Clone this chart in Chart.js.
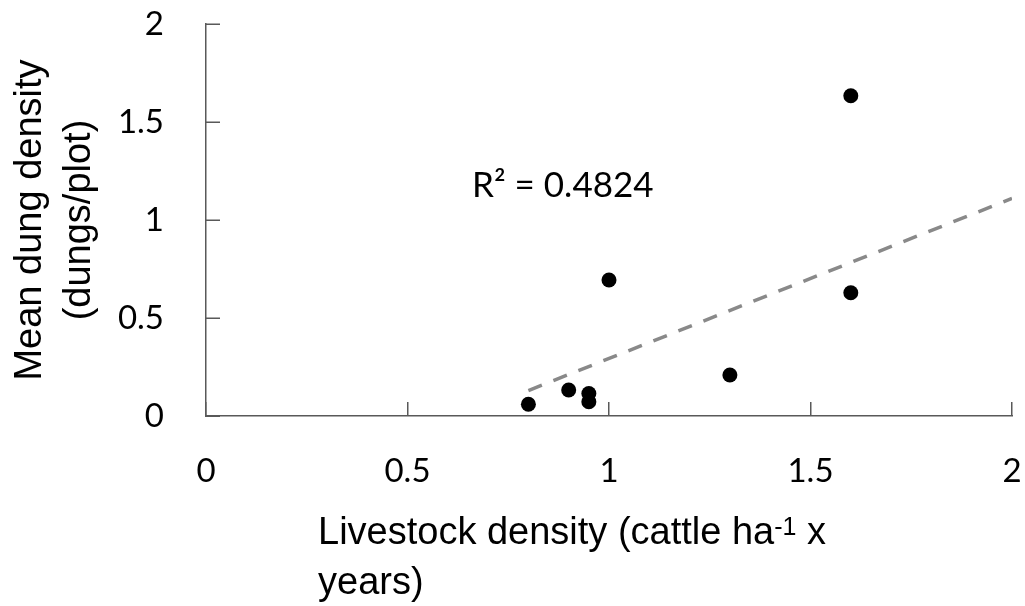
<!DOCTYPE html>
<html><head><meta charset="utf-8">
<script src="https://cdn.jsdelivr.net/npm/chart.js@4.4.0/dist/chart.umd.min.js"></script>
<style>html,body{margin:0;padding:0;background:#fff;} #wrap{width:1025px;height:606px;}</style>
</head><body><div id="wrap"><canvas id="c" width="1025" height="606"></canvas></div>
<script>
// ---- data ----
const livestockDensity = [0.8, 0.9, 0.95, 0.95, 1.0, 1.3, 1.6, 1.6];
const dungDensity      = [0.06, 0.133, 0.115, 0.073, 0.694, 0.209, 1.634, 0.629];
const trendX = [0.8, 2.0];
const trendY = [0.13, 1.11];
const xTicks = [0, 0.5, 1, 1.5, 2];
const yTicks = [0, 0.5, 1, 1.5, 2];
const rSquaredLabel = 'R\u00B2 = 0.4824';
const yTitleLines = ['Mean dung density', '(dungs/plot)'];
const xTitleMain = 'Livestock density (cattle ha';
const xTitleSup = '-1';
const xTitleTail = ' x';
const xTitleLine2 = 'years)';

const AXIS_COLOR = '#595959';

const decorations = {
  id: 'decorations',
  afterDatasetsDraw(chart) {
    const ctx = chart.ctx;
    const xs = chart.scales.x, ys = chart.scales.y;
    const ca = chart.chartArea;
    ctx.save();
    // inward tick marks
    ctx.strokeStyle = AXIS_COLOR;
    ctx.lineWidth = 1.5;
    ctx.beginPath();
    xs.ticks.forEach(t => {
      const px = Math.round(xs.getPixelForValue(t.value)) - 0.25;
      ctx.moveTo(px, ca.bottom);
      ctx.lineTo(px, ca.bottom - 14);
    });
    ys.ticks.forEach(t => {
      const py = Math.round(ys.getPixelForValue(t.value)) + 0.25;
      ctx.moveTo(ca.left, py);
      ctx.lineTo(ca.left + 14, py);
    });
    ctx.stroke();

    ctx.fillStyle = '#000';
    // R² label
    ctx.font = '35px Lato';
    ctx.textAlign = 'left';
    ctx.textBaseline = 'alphabetic';
    ctx.fillText(rSquaredLabel, xs.getPixelForValue(0.66), ys.getPixelForValue(1.117));

    // Y axis title (rotated)
    ctx.font = '38px "Liberation Sans"';
    ctx.textAlign = 'center';
    const cy = (ca.top + ca.bottom) / 2;
    const baseX = [41, 90];
    yTitleLines.forEach((line, i) => {
      ctx.save();
      ctx.translate(baseX[i], cy);
      ctx.rotate(-Math.PI / 2);
      ctx.fillText(line, 0, 0);
      ctx.restore();
    });

    // X axis title with superscript
    ctx.textAlign = 'left';
    let x0 = 318;
    ctx.font = '38px "Liberation Sans"';
    ctx.fillText(xTitleMain, x0, 544);
    let w = ctx.measureText(xTitleMain).width;
    ctx.font = '25px "Liberation Sans"';
    ctx.fillText(xTitleSup, x0 + w, 535);
    w += ctx.measureText(xTitleSup).width;
    ctx.font = '38px "Liberation Sans"';
    ctx.fillText(xTitleTail, x0 + w, 544);
    ctx.fillText(xTitleLine2, x0, 594);
    ctx.restore();
  }
};

new Chart(document.getElementById('c'), {
  type: 'scatter',
  data: {
    datasets: [
      {
        label: 'points',
        data: livestockDensity.map((x, i) => ({x, y: dungDensity[i]})),
        backgroundColor: '#000',
        borderWidth: 0,
        pointRadius: 7.5,
        order: 1
      },
      {
        type: 'line',
        label: 'trend',
        data: trendX.map((x, i) => ({x, y: trendY[i]})),
        borderColor: '#898989',
        borderWidth: 3.5,
        borderDash: [14.5, 12.4],
        pointRadius: 0,
        fill: false,
        order: 2
      }
    ]
  },
  options: {
    responsive: false,
    devicePixelRatio: 1,
    animation: false,
    layout: { padding: { top: 24, right: 13, left: 0, bottom: 0 } },
    plugins: { legend: { display: false }, tooltip: { enabled: false } },
    scales: {
      x: {
        type: 'linear', min: 0, max: 2,
        afterBuildTicks: s => { s.ticks = xTicks.map(v => ({value: v})); },
        afterFit: s => { s.height = 190; s.paddingLeft = 0; s.paddingRight = 0; s.paddingTop = 0; s.paddingBottom = 0; },
        grid: { display: false, drawTicks: false },
        border: { display: true, color: AXIS_COLOR, width: 1.5 },
        ticks: { font: { family: 'Lato', size: 33 }, color: '#000', padding: 36, maxRotation: 0,
                 callback: v => String(v) }
      },
      y: {
        type: 'linear', min: 0, max: 2,
        afterBuildTicks: s => { s.ticks = yTicks.map(v => ({value: v})); },
        afterFit: s => { s.width = 206; s.paddingLeft = 0; s.paddingRight = 0; s.paddingTop = 0; s.paddingBottom = 0; },
        grid: { display: false, drawTicks: false },
        border: { display: true, color: AXIS_COLOR, width: 1.5 },
        ticks: { font: { family: 'Lato', size: 33 }, color: '#000', padding: 42,
                 callback: v => String(v) }
      }
    }
  },
  plugins: [decorations]
});
</script>
</body></html>
